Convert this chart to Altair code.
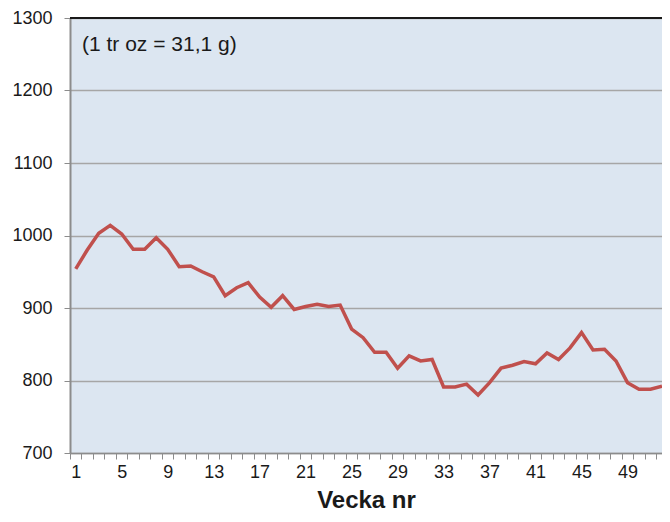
import altair as alt
import pandas as pd

weeks = list(range(1, 53))
prices = [954, 980, 1003, 1014, 1002, 981, 981, 997, 981, 957,
          958, 950, 943, 917, 928, 935, 915, 901, 917, 898,
          902, 905, 902, 904, 871, 859, 839, 839, 817, 834,
          827, 829, 791, 791, 795, 780, 797, 817, 821, 826,
          823, 838, 829, 845, 866, 842, 843, 827, 797, 788,
          788, 792]
y_ticks = [700, 800, 900, 1000, 1100, 1200, 1300]
x_bounds = [w - 0.5 for w in range(1, 53)]
note = "(1 tr oz = 31,1 g)"

df = pd.DataFrame({"week": weeks, "price": prices})

FONT = "Liberation Sans"
xscale = alt.Scale(domain=[0.5, 52.0], nice=False, zero=False)
yscale = alt.Scale(domain=[700, 1300], nice=False, zero=False)

line = alt.Chart(df).mark_line(color="#c0504d", strokeWidth=3.5).encode(
    x=alt.X("week:Q", scale=xscale, title="Vecka nr",
            axis=alt.Axis(values=x_bounds, grid=False, domainColor="#8c8c8c",
                          domainWidth=1.5, tickColor="#8c8c8c", tickSize=6,
                          labelExpr="((datum.value - 0.5) % 4 == 0 && datum.value < 50) ? format(datum.value + 0.5, 'd') : ''",
                          labelOffset=5.7, labelOverlap=False, labelFlush=False,
                          labelFont=FONT, labelFontSize=18, labelColor="#1a1a1a",
                          labelPadding=4, titleFont=FONT, titleFontSize=24,
                          titleFontWeight="bold", titleColor="#1a1a1a", titlePadding=7)),
    y=alt.Y("price:Q", scale=yscale, title=None,
            axis=alt.Axis(values=y_ticks, format="d", grid=True, gridColor="#a6a6a6",
                          gridWidth=1.6, domainColor="#8c8c8c", domainWidth=2,
                          tickColor="#8c8c8c", tickSize=6, labelFont=FONT,
                          labelFontSize=18, labelColor="#1a1a1a", labelPadding=12)),
)

top = alt.Chart(df).mark_rule(color="#1a1a1a", strokeWidth=1.5).encode(
    y=alt.datum(1300, scale=yscale)
)

text = alt.Chart(pd.DataFrame({"t": [note]})).mark_text(
    align="left", baseline="middle", font=FONT, fontSize=21, color="#1a1a1a"
).encode(x=alt.value(12), y=alt.value(27), text="t:N")

chart = alt.layer(top, line, text).properties(
    width=592, height=435,
    autosize=alt.AutoSizeParams(type="none"),
    padding={"left": 62, "top": 10, "right": 0, "bottom": 60},
).configure_view(fill="#dce6f1", stroke=None)

chart.save("out.html", embed_options={"renderer": "svg", "actions": False})
